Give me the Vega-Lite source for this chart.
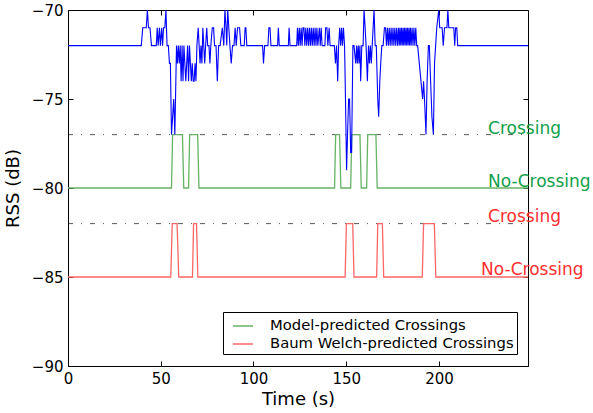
{
  "$schema": "https://vega.github.io/schema/vega-lite/v6.json",
  "width": 460,
  "height": 356,
  "autosize": "none",
  "padding": {"left": 68, "top": 10, "right": 65, "bottom": 47},
  "background": "white",
  "config": {
    "font": "DejaVu Sans",
    "view": {"stroke": "black", "strokeWidth": 1},
    "axis": {
      "domain": false, "grid": false, "labelFont": "DejaVu Sans", "labelFontSize": 15, "labelColor": "black",
      "labelFlush": false, "tickColor": "black", "tickSize": -5, "tickWidth": 1,
      "titleFont": "DejaVu Sans", "titleFontSize": 18, "titleFontWeight": "normal", "titleColor": "black"
    }
  },
  "datasets": {
    "ref": [{"t": 0, "t2": 248, "v": -77}, {"t": 0, "t2": 248, "v": -82}],
    "pred": [
      {"t": 0, "v": -80, "s": "Model-predicted Crossings"},
      {"t": 55.8, "v": -80, "s": "Model-predicted Crossings"},
      {"t": 56.4, "v": -77, "s": "Model-predicted Crossings"},
      {"t": 61.7, "v": -77, "s": "Model-predicted Crossings"},
      {"t": 62.4, "v": -80, "s": "Model-predicted Crossings"},
      {"t": 65, "v": -80, "s": "Model-predicted Crossings"},
      {"t": 65.6, "v": -77, "s": "Model-predicted Crossings"},
      {"t": 69.9, "v": -77, "s": "Model-predicted Crossings"},
      {"t": 70.6, "v": -80, "s": "Model-predicted Crossings"},
      {"t": 143.7, "v": -80, "s": "Model-predicted Crossings"},
      {"t": 144.3, "v": -77, "s": "Model-predicted Crossings"},
      {"t": 146.4, "v": -77, "s": "Model-predicted Crossings"},
      {"t": 147.1, "v": -80, "s": "Model-predicted Crossings"},
      {"t": 152.4, "v": -80, "s": "Model-predicted Crossings"},
      {"t": 153, "v": -77, "s": "Model-predicted Crossings"},
      {"t": 157.4, "v": -77, "s": "Model-predicted Crossings"},
      {"t": 158.1, "v": -80, "s": "Model-predicted Crossings"},
      {"t": 161, "v": -80, "s": "Model-predicted Crossings"},
      {"t": 161.6, "v": -77, "s": "Model-predicted Crossings"},
      {"t": 166, "v": -77, "s": "Model-predicted Crossings"},
      {"t": 166.7, "v": -80, "s": "Model-predicted Crossings"},
      {"t": 248, "v": -80, "s": "Model-predicted Crossings"},
      {"t": 0, "v": -85, "s": "Baum Welch-predicted Crossings"},
      {"t": 55.4, "v": -85, "s": "Baum Welch-predicted Crossings"},
      {"t": 56.2, "v": -82, "s": "Baum Welch-predicted Crossings"},
      {"t": 58.8, "v": -82, "s": "Baum Welch-predicted Crossings"},
      {"t": 59.7, "v": -85, "s": "Baum Welch-predicted Crossings"},
      {"t": 67.1, "v": -85, "s": "Baum Welch-predicted Crossings"},
      {"t": 67.7, "v": -82, "s": "Baum Welch-predicted Crossings"},
      {"t": 69.3, "v": -82, "s": "Baum Welch-predicted Crossings"},
      {"t": 70, "v": -85, "s": "Baum Welch-predicted Crossings"},
      {"t": 149.4, "v": -85, "s": "Baum Welch-predicted Crossings"},
      {"t": 150.1, "v": -82, "s": "Baum Welch-predicted Crossings"},
      {"t": 153.5, "v": -82, "s": "Baum Welch-predicted Crossings"},
      {"t": 154.2, "v": -85, "s": "Baum Welch-predicted Crossings"},
      {"t": 166.4, "v": -85, "s": "Baum Welch-predicted Crossings"},
      {"t": 167, "v": -82, "s": "Baum Welch-predicted Crossings"},
      {"t": 169.5, "v": -82, "s": "Baum Welch-predicted Crossings"},
      {"t": 170.2, "v": -85, "s": "Baum Welch-predicted Crossings"},
      {"t": 191, "v": -85, "s": "Baum Welch-predicted Crossings"},
      {"t": 191.7, "v": -82, "s": "Baum Welch-predicted Crossings"},
      {"t": 197.5, "v": -82, "s": "Baum Welch-predicted Crossings"},
      {"t": 198.3, "v": -85, "s": "Baum Welch-predicted Crossings"},
      {"t": 248, "v": -85, "s": "Baum Welch-predicted Crossings"}
    ],
    "labels": [
      {"t": 226.5, "v": -77, "label": "Crossing", "grp": "model"},
      {"t": 226.5, "v": -80, "label": "No-Crossing", "grp": "model"},
      {"t": 226.5, "v": -82, "label": "Crossing", "grp": "bw"},
      {"t": 222.7, "v": -85, "label": "No-Crossing", "grp": "bw"}
    ],
    "rss": [
      {"t": 0, "v": -72}, {"t": 39.5, "v": -72}, {"t": 40.3, "v": -71}, {"t": 42.2, "v": -71}, {"t": 42.8, "v": -70},
      {"t": 43.4, "v": -71}, {"t": 44.2, "v": -71}, {"t": 45, "v": -72}, {"t": 47.6, "v": -72}, {"t": 48.1, "v": -71},
      {"t": 48.6, "v": -72}, {"t": 49.3, "v": -71}, {"t": 49.8, "v": -72}, {"t": 50.5, "v": -71}, {"t": 51, "v": -72},
      {"t": 51.5, "v": -71}, {"t": 52.2, "v": -71}, {"t": 52.8, "v": -70}, {"t": 53.4, "v": -72}, {"t": 54.1, "v": -72},
      {"t": 54.7, "v": -73}, {"t": 55.2, "v": -73}, {"t": 55.8, "v": -77}, {"t": 56.4, "v": -76}, {"t": 57, "v": -75},
      {"t": 57.6, "v": -77}, {"t": 58.5, "v": -72}, {"t": 59, "v": -73}, {"t": 59.5, "v": -72}, {"t": 60, "v": -73},
      {"t": 60.5, "v": -72}, {"t": 61, "v": -74}, {"t": 61.5, "v": -72}, {"t": 62, "v": -74}, {"t": 62.5, "v": -72},
      {"t": 63, "v": -73}, {"t": 63.5, "v": -74}, {"t": 64, "v": -73}, {"t": 64.5, "v": -72}, {"t": 65, "v": -74},
      {"t": 65.5, "v": -72}, {"t": 66, "v": -73}, {"t": 66.5, "v": -74}, {"t": 67, "v": -73}, {"t": 67.5, "v": -74},
      {"t": 68, "v": -74}, {"t": 68.5, "v": -73}, {"t": 69, "v": -74}, {"t": 69.5, "v": -72}, {"t": 70.2, "v": -71},
      {"t": 70.7, "v": -72}, {"t": 71.2, "v": -73}, {"t": 71.7, "v": -72}, {"t": 72.2, "v": -73}, {"t": 72.7, "v": -71},
      {"t": 73.2, "v": -72}, {"t": 73.7, "v": -73}, {"t": 74.2, "v": -72}, {"t": 74.8, "v": -71}, {"t": 75.3, "v": -72},
      {"t": 76, "v": -72}, {"t": 76.5, "v": -73}, {"t": 77, "v": -72}, {"t": 77.8, "v": -71}, {"t": 78.5, "v": -71},
      {"t": 79, "v": -72}, {"t": 79.8, "v": -72}, {"t": 80.5, "v": -74}, {"t": 81.2, "v": -72}, {"t": 82, "v": -72},
      {"t": 83.2, "v": -71}, {"t": 84, "v": -72}, {"t": 84.6, "v": -70}, {"t": 85.2, "v": -71}, {"t": 85.6, "v": -72},
      {"t": 86.1, "v": -70}, {"t": 86.7, "v": -71}, {"t": 87.3, "v": -72}, {"t": 88, "v": -73}, {"t": 88.7, "v": -72},
      {"t": 89.5, "v": -72}, {"t": 90.1, "v": -71}, {"t": 90.7, "v": -72}, {"t": 91.4, "v": -71}, {"t": 92.5, "v": -71},
      {"t": 93.2, "v": -72}, {"t": 95, "v": -72}, {"t": 95.5, "v": -71}, {"t": 95.9, "v": -71}, {"t": 96.4, "v": -72},
      {"t": 104.9, "v": -72}, {"t": 105.4, "v": -73}, {"t": 106, "v": -72}, {"t": 107.8, "v": -72}, {"t": 108.3, "v": -71},
      {"t": 108.9, "v": -71}, {"t": 109.4, "v": -72}, {"t": 113, "v": -72}, {"t": 113.4, "v": -71}, {"t": 113.9, "v": -72},
      {"t": 118.8, "v": -72}, {"t": 119.2, "v": -71}, {"t": 119.7, "v": -72}, {"t": 123.3, "v": -72}, {"t": 123.7, "v": -71},
      {"t": 124.2, "v": -72}, {"t": 124.7, "v": -71}, {"t": 125.2, "v": -72}, {"t": 125.7, "v": -71}, {"t": 126.2, "v": -72},
      {"t": 126.7, "v": -71}, {"t": 127.2, "v": -71}, {"t": 127.7, "v": -72}, {"t": 128.2, "v": -71}, {"t": 128.7, "v": -72},
      {"t": 129.2, "v": -71}, {"t": 129.7, "v": -72}, {"t": 130.2, "v": -71}, {"t": 130.7, "v": -72}, {"t": 131.2, "v": -71},
      {"t": 131.7, "v": -72}, {"t": 132.2, "v": -71}, {"t": 132.7, "v": -72}, {"t": 133.2, "v": -71}, {"t": 133.7, "v": -72},
      {"t": 134.2, "v": -71}, {"t": 134.7, "v": -72}, {"t": 135.5, "v": -71}, {"t": 136, "v": -72}, {"t": 136.5, "v": -71},
      {"t": 137, "v": -72}, {"t": 138.5, "v": -72}, {"t": 138.9, "v": -71}, {"t": 139.6, "v": -71}, {"t": 140.1, "v": -72},
      {"t": 140.8, "v": -71}, {"t": 141.3, "v": -72}, {"t": 143.6, "v": -72}, {"t": 144.2, "v": -73}, {"t": 144.8, "v": -72},
      {"t": 145.4, "v": -74}, {"t": 145.9, "v": -72}, {"t": 146.5, "v": -71}, {"t": 147, "v": -72}, {"t": 147.5, "v": -71},
      {"t": 148, "v": -72}, {"t": 148.5, "v": -71}, {"t": 149.1, "v": -72}, {"t": 149.6, "v": -75}, {"t": 150.2, "v": -79},
      {"t": 150.7, "v": -77}, {"t": 151.3, "v": -75}, {"t": 151.8, "v": -75}, {"t": 152.4, "v": -78}, {"t": 152.9, "v": -78},
      {"t": 153.6, "v": -72}, {"t": 154.2, "v": -72}, {"t": 155.1, "v": -73}, {"t": 155.6, "v": -72}, {"t": 156, "v": -73},
      {"t": 156.5, "v": -72}, {"t": 156.9, "v": -73}, {"t": 157.4, "v": -72}, {"t": 157.8, "v": -74}, {"t": 158.4, "v": -72},
      {"t": 159.1, "v": -72}, {"t": 159.6, "v": -70}, {"t": 160.2, "v": -71}, {"t": 160.7, "v": -72}, {"t": 161.4, "v": -74},
      {"t": 162, "v": -72}, {"t": 162.5, "v": -73}, {"t": 163, "v": -72}, {"t": 163.5, "v": -73}, {"t": 164, "v": -72},
      {"t": 164.5, "v": -71}, {"t": 165, "v": -70}, {"t": 165.6, "v": -72}, {"t": 166.2, "v": -72}, {"t": 167, "v": -75},
      {"t": 167.5, "v": -76}, {"t": 168.1, "v": -74}, {"t": 168.6, "v": -73}, {"t": 169.2, "v": -72}, {"t": 169.9, "v": -72},
      {"t": 170.6, "v": -71}, {"t": 171.2, "v": -71}, {"t": 171.7, "v": -72}, {"t": 172.2, "v": -71}, {"t": 172.7, "v": -72},
      {"t": 173.2, "v": -71}, {"t": 173.7, "v": -72}, {"t": 174.2, "v": -71}, {"t": 174.7, "v": -72}, {"t": 175.2, "v": -71},
      {"t": 175.7, "v": -72}, {"t": 176.2, "v": -71}, {"t": 176.7, "v": -72}, {"t": 177.2, "v": -71}, {"t": 177.7, "v": -72},
      {"t": 178.2, "v": -71}, {"t": 178.6, "v": -72}, {"t": 179, "v": -71}, {"t": 179.4, "v": -72}, {"t": 179.8, "v": -71},
      {"t": 180.2, "v": -72}, {"t": 180.6, "v": -71}, {"t": 181, "v": -72}, {"t": 181.4, "v": -71}, {"t": 181.8, "v": -72},
      {"t": 182.2, "v": -71}, {"t": 182.6, "v": -72}, {"t": 183, "v": -71}, {"t": 183.4, "v": -72}, {"t": 183.8, "v": -71},
      {"t": 184.2, "v": -72}, {"t": 184.6, "v": -71}, {"t": 185, "v": -72}, {"t": 185.5, "v": -71}, {"t": 186, "v": -72},
      {"t": 186.5, "v": -71}, {"t": 187, "v": -72}, {"t": 187.5, "v": -71}, {"t": 188, "v": -72}, {"t": 188.5, "v": -72},
      {"t": 189.4, "v": -73}, {"t": 190.3, "v": -74}, {"t": 191.2, "v": -75}, {"t": 191.7, "v": -74}, {"t": 192.2, "v": -75},
      {"t": 193, "v": -77}, {"t": 193.6, "v": -74}, {"t": 194.3, "v": -72}, {"t": 194.8, "v": -72}, {"t": 195.5, "v": -74},
      {"t": 196.2, "v": -76}, {"t": 197, "v": -77}, {"t": 197.6, "v": -73}, {"t": 198.2, "v": -72}, {"t": 198.8, "v": -71},
      {"t": 199.9, "v": -70}, {"t": 200.4, "v": -71}, {"t": 201.7, "v": -71}, {"t": 202.3, "v": -72}, {"t": 203, "v": -71},
      {"t": 204.3, "v": -71}, {"t": 204.8, "v": -70}, {"t": 205.3, "v": -71}, {"t": 208, "v": -71}, {"t": 208.5, "v": -72},
      {"t": 209, "v": -71}, {"t": 209.6, "v": -71}, {"t": 210.1, "v": -72}, {"t": 248, "v": -72}
    ]
  },
  "layer": [
    {
      "encoding": {
        "x": {"field": "t", "type": "quantitative", "scale": {"domain": [0, 248], "nice": false, "zero": false},
              "axis": {"title": "Time (s)", "values": [0, 50, 100, 150, 200], "labelPadding": 10, "titlePadding": 4}},
        "y": {"field": "v", "type": "quantitative", "scale": {"domain": [-90, -70], "nice": false, "zero": false},
              "axis": {"title": "RSS (dB)", "values": [-90, -85, -80, -75, -70], "labelPadding": 10, "titlePadding": 9}}
      },
      "layer": [
        {
          "data": {"name": "ref"},
          "mark": {"type": "rule", "color": "black", "opacity": 0.65, "strokeWidth": 1, "strokeDash": [5, 8, 1, 8]},
          "encoding": {"x2": {"field": "t2"}}
        },
        {
          "data": {"name": "pred"},
          "mark": {"type": "line", "strokeWidth": 1.3, "clip": true},
          "encoding": {
            "color": {"field": "s", "type": "nominal",
              "scale": {"domain": ["Model-predicted Crossings", "Baum Welch-predicted Crossings"], "range": ["#66b366", "#ff6666"]},
              "legend": {"orient": "none", "legendX": 155, "legendY": 302, "title": null, "symbolType": "stroke",
                "symbolSize": 400, "symbolStrokeWidth": 1.5, "symbolOffset": 6, "labelOffset": 16, "rowPadding": 0, "padding": 3,
                "strokeColor": "black", "fillColor": "white", "labelFont": "DejaVu Sans", "labelFontSize": 14.8,
                "labelColor": "black", "labelLimit": 400}
            }
          }
        },
        {
          "data": {"name": "rss"},
          "mark": {"type": "line", "color": "#0000ff", "strokeWidth": 1.1, "clip": true}
        },
        {
          "data": {"name": "labels"},
          "transform": [{"filter": "datum.grp == 'model'"}],
          "mark": {"type": "text", "align": "left", "baseline": "bottom", "dy": 3, "fontSize": 17, "font": "DejaVu Sans", "color": "#12a04a"},
          "encoding": {"text": {"field": "label"}}
        },
        {
          "data": {"name": "labels"},
          "transform": [{"filter": "datum.grp == 'bw'"}],
          "mark": {"type": "text", "align": "left", "baseline": "bottom", "dy": 2, "fontSize": 17, "font": "DejaVu Sans", "color": "#ff3030"},
          "encoding": {"text": {"field": "label"}}
        }
      ]
    },
    {
      "data": {"name": "ref"},
      "mark": {"type": "point", "opacity": 0},
      "encoding": {
        "x": {"field": "t", "type": "quantitative", "scale": {"domain": [0, 248], "nice": false, "zero": false},
              "axis": {"orient": "top", "title": null, "labels": false, "values": [0, 50, 100, 150, 200]}},
        "y": {"field": "v", "type": "quantitative", "scale": {"domain": [-90, -70], "nice": false, "zero": false},
              "axis": {"orient": "right", "title": null, "labels": false, "values": [-90, -85, -80, -75, -70]}}
      }
    }
  ],
  "resolve": {"axis": {"x": "independent", "y": "independent"}}
}
